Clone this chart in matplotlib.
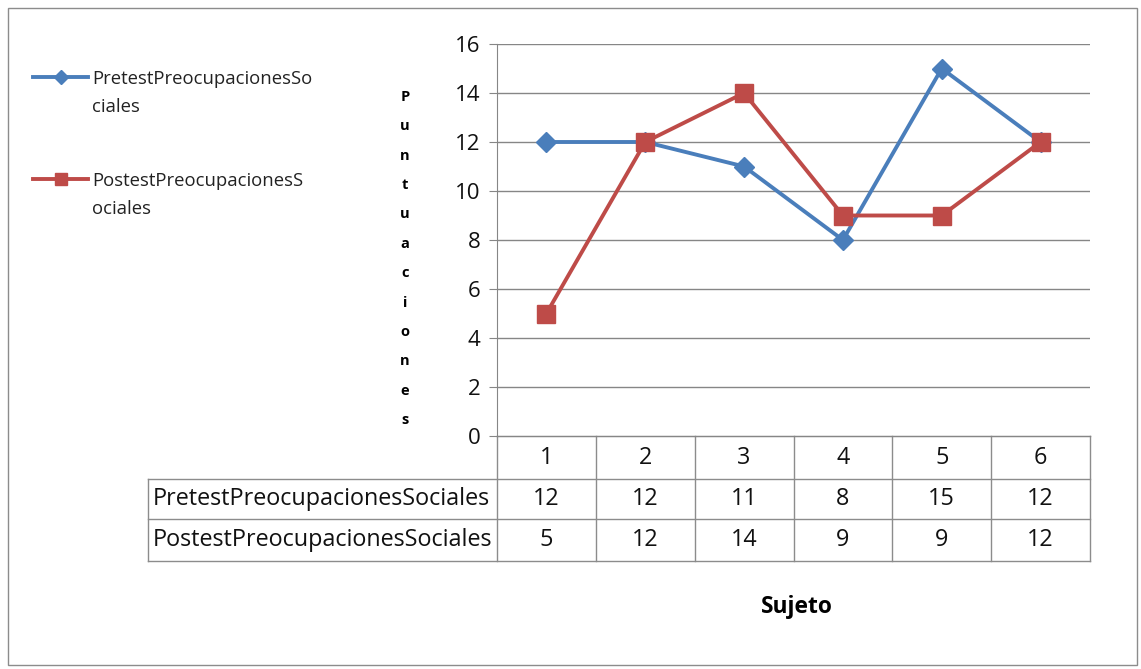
import matplotlib
matplotlib.use("Agg")
import matplotlib.pyplot as plt
from matplotlib.transforms import blended_transform_factory
from matplotlib.lines import Line2D
from matplotlib.patches import Rectangle

# ---- data ----
categories = ["1", "2", "3", "4", "5", "6"]
series_names = ["PretestPreocupacionesSociales", "PostestPreocupacionesSociales"]
legend_labels = ["PretestPreocupacionesSo\nciales", "PostestPreocupacionesS\nociales"]
pretest = [12, 12, 11, 8, 15, 12]
postest = [5, 12, 14, 9, 9, 12]
y_ticks = [0, 2, 4, 6, 8, 10, 12, 14, 16]
y_label = "Puntuaciones"
x_label = "Sujeto"

W, H = 1141, 669
plt.rcParams['font.family'] = ['Open Sans', 'DejaVu Sans']
fig = plt.figure(figsize=(W / 100, H / 100), dpi=100)

def fx(px):
    return px / W

def fy(py):
    return 1 - py / H

# outer border
fig.patches.append(Rectangle((fx(8), fy(665)), fx(1137) - fx(8), fy(8) - fy(665),
                             transform=fig.transFigure, fill=False,
                             edgecolor="#8c8c8c", linewidth=1.0))

# main plot area
L, R, T, B = 497, 1090, 44, 436
ax = fig.add_axes([fx(L), fy(B), fx(R) - fx(L), fy(T) - fy(B)])
x = list(range(1, len(categories) + 1))
blue = "#4A7EBB"
red = "#BE4B48"
ax.plot(x, pretest, color=blue, lw=2.8, marker="D", ms=10, mec=blue, mfc=blue, zorder=3)
ax.plot(x, postest, color=red, lw=2.8, marker="s", ms=13, mec=red, mfc=red, zorder=3)
ax.set_xlim(0.5, len(categories) + 0.5)
ax.set_ylim(0, 16)
ax.set_yticks(y_ticks)
ax.set_xticks([])
for v in y_ticks[1:]:
    ax.axhline(v, color="#868686", lw=1.0, zorder=1)
for s in ["top", "right"]:
    ax.spines[s].set_visible(False)
ax.spines["left"].set_color("#868686")
ax.spines["bottom"].set_color("#868686")
ax.tick_params(axis="y", length=6, color="#868686", labelsize=16, pad=6, labelcolor="#111111")
ax.tick_params(axis="x", length=0)

# data table below the plot
px_per_unit = (R - L) / len(categories)
label_left = 0.5 - (L - 148) / px_per_unit
tr = blended_transform_factory(ax.transData, ax.transAxes)
plot_h = B - T
rows_px = [436, 479, 519, 561]
rows = [(B - r) / plot_h for r in rows_px]
lc = "#8c8c8c"
TFS = 16.8
for i, r in enumerate(rows):
    x0 = 0.5 if i == 0 else label_left
    ax.add_line(Line2D([x0, len(categories) + 0.5], [r, r], transform=tr, color=lc, lw=1.0, clip_on=False))
for k in range(len(categories) + 1):
    xv = 0.5 + k
    ax.add_line(Line2D([xv, xv], [rows[0], rows[-1]], transform=tr, color=lc, lw=1.0, clip_on=False))
ax.add_line(Line2D([label_left, label_left], [rows[1], rows[-1]], transform=tr, color=lc, lw=1.0, clip_on=False))
for xi, c in zip(x, categories):
    ax.text(xi, (rows[0] + rows[1]) / 2, c, transform=tr, ha="center", va="center",
            fontsize=TFS, color="#111111", clip_on=False)
for ri, (name, vals) in enumerate(zip(series_names, [pretest, postest])):
    yc = (rows[ri + 1] + rows[ri + 2]) / 2
    ax.text(label_left + 0.05, yc, name, transform=tr, ha="left", va="center",
            fontsize=TFS, color="#111111", clip_on=False)
    for xi, v in zip(x, vals):
        ax.text(xi, yc, str(v), transform=tr, ha="center", va="center",
                fontsize=TFS, color="#111111", clip_on=False)

# legend (manual, Excel style)
for (ly, col, mk, ms, lab) in [(77, blue, "D", 7, legend_labels[0]), (179, red, "s", 9, legend_labels[1])]:
    fig.add_artist(Line2D([fx(33), fx(88)], [fy(ly), fy(ly)], transform=fig.transFigure,
                          color=col, lw=2.8))
    fig.add_artist(Line2D([fx(60.5)], [fy(ly)], transform=fig.transFigure, color=col,
                          marker=mk, ms=ms, mec=col, mfc=col))
    fig.text(fx(92), fy(ly - 7), lab, ha="left", va="top", fontsize=13.3,
             linespacing=1.68, color="#222222")

# y-axis title as stacked letters
fig.text(fx(405), fy((92 + 425) / 2), "\n".join(y_label), ha="center", va="center",
         fontsize=10.5, fontweight="bold", linespacing=2.4)

# x-axis title
fig.text(fx(797), fy(607), x_label, ha="center", va="center", fontsize=16.4, fontweight="bold")

fig.savefig("out.png", dpi=100)
